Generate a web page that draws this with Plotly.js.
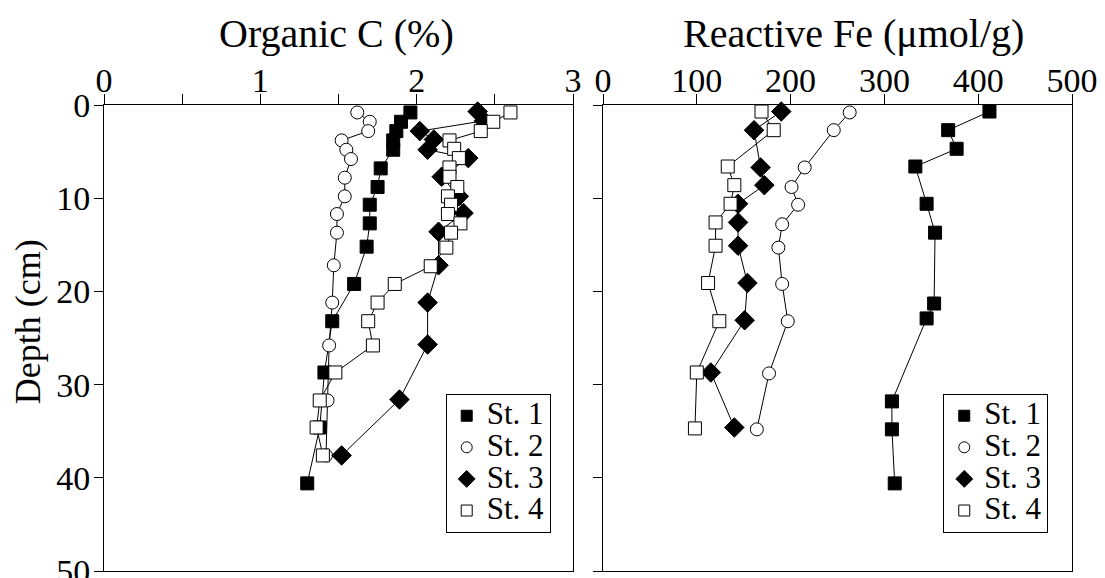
<!DOCTYPE html>
<html><head><meta charset="utf-8">
<script src="https://cdn.plot.ly/plotly-3.0.1.min.js"></script>
<style>html,body{margin:0;padding:0;background:#fff}#chart{width:1105px;height:578px}</style>
</head><body><div id="chart"></div>
<script>
// ---- Organic C (%) panel ----
const stationNames = ['St. 1', 'St. 2', 'St. 3', 'St. 4'];
const cDepth1 = [0.8, 1.8, 2.8, 3.8, 4.8, 6.8, 8.8, 10.7, 12.7, 15.2, 19.2, 23.2, 28.7, 34.6, 40.6];
const cSt1    = [1.96, 1.90, 1.87, 1.85, 1.85, 1.77, 1.75, 1.70, 1.70, 1.68, 1.60, 1.46, 1.41, 1.38, 1.30];
const cDepth2 = [0.8, 1.8, 2.8, 3.8, 4.8, 5.8, 7.8, 9.8, 11.7, 13.7, 17.2, 21.2, 25.8, 31.7, 37.6];
const cSt2    = [1.62, 1.70, 1.69, 1.52, 1.55, 1.58, 1.54, 1.54, 1.49, 1.49, 1.47, 1.46, 1.44, 1.43, 1.42];
const cDepth3 = [0.7, 1.7, 2.8, 3.7, 4.8, 5.7, 7.7, 9.8, 11.6, 13.6, 17.2, 21.2, 25.7, 31.6, 37.6];
const cSt3    = [2.39, 2.43, 2.02, 2.11, 2.07, 2.33, 2.16, 2.27, 2.30, 2.14, 2.14, 2.07, 2.07, 1.89, 1.52];
const cDepth4 = [0.8, 1.8, 2.8, 3.8, 4.7, 5.7, 6.7, 7.7, 8.8, 9.8, 10.7, 11.7, 12.7, 13.7, 15.3, 17.3, 19.2, 21.2, 23.2, 25.8, 28.7, 31.7, 34.6, 37.6];
const cSt4    = [2.60, 2.49, 2.41, 2.21, 2.24, 2.27, 2.21, 2.21, 2.26, 2.20, 2.22, 2.20, 2.28, 2.22, 2.19, 2.09, 1.86, 1.75, 1.69, 1.72, 1.48, 1.38, 1.36, 1.40];

// ---- Reactive Fe (umol/g) panel ----
const fDepth1 = [0.7, 2.7, 4.7, 6.6, 10.6, 13.7, 21.3, 22.9, 31.8, 34.8, 40.6];
const fSt1    = [412, 368, 377, 333, 345, 354, 353, 345, 308, 308, 311];
const fDepth2 = [0.8, 2.7, 6.7, 8.8, 10.7, 12.8, 15.3, 19.2, 23.2, 28.8, 34.8];
const fSt2    = [263, 246, 215, 201, 208, 191, 187, 191, 197, 177, 164];
const fDepth3 = [0.7, 2.7, 6.7, 8.6, 10.6, 12.6, 15.1, 19.1, 23.1, 28.7, 34.6];
const fSt3    = [190, 161, 168, 172, 144, 144, 144, 154, 151, 115, 140];
const fDepth4 = [0.7, 2.7, 6.6, 8.6, 10.6, 12.6, 15.1, 19.1, 23.2, 28.7, 34.7];
const fSt4    = [169, 182, 133, 140, 136, 120, 120, 112, 124, 100, 98];

// tick labels
const cTickVals = [0, 0.5, 1, 1.5, 2, 2.5, 3];
const cTickText = ['0', '', '1', '', '2', '', '3'];
const fTickVals = [0, 100, 200, 300, 400, 500];
const fTickText = ['0', '100', '200', '300', '400', '500'];
const depthTickVals = [0, 10, 20, 30, 40, 50];
const depthTickText = ['0', '10', '20', '30', '40', '50'];

const FONT = 'Liberation Serif, Times New Roman, serif';
const styles = [
  {symbol: 'square', size: 13, color: '#000', line: {color: '#000', width: 1}},
  {symbol: 'circle', size: 13, color: '#fff', line: {color: '#000', width: 1}},
  {symbol: 'diamond', size: 15, color: '#000', line: {color: '#000', width: 1}},
  {symbol: 'square', size: 13, color: '#fff', line: {color: '#000', width: 1}}
];
const legendStyles = [
  {symbol: 'square', size: 11, color: '#000', line: {color: '#000', width: 1}},
  {symbol: 'circle', size: 11, color: '#fff', line: {color: '#000', width: 1}},
  {symbol: 'diamond', size: 13, color: '#000', line: {color: '#000', width: 1}},
  {symbol: 'square', size: 11, color: '#fff', line: {color: '#000', width: 1}}
];

const cX = [cSt1, cSt2, cSt3, cSt4], cY = [cDepth1, cDepth2, cDepth3, cDepth4];
const fX = [fSt1, fSt2, fSt3, fSt4], fY = [fDepth1, fDepth2, fDepth3, fDepth4];
const legendLabel = n => '<span style="font-size:31px">' + n + '</span>';

const traces = [];
for (let i = 0; i < 4; i++) {
  traces.push({x: cX[i], y: cY[i], xaxis: 'x', yaxis: 'y', mode: 'lines+markers', type: 'scatter',
    line: {color: '#000', width: 1}, marker: styles[i], showlegend: false, cliponaxis: false});
}
for (let i = 0; i < 4; i++) {
  traces.push({x: fX[i], y: fY[i], xaxis: 'x2', yaxis: 'y2', mode: 'lines+markers', type: 'scatter',
    line: {color: '#000', width: 1}, marker: styles[i], showlegend: false, cliponaxis: false});
}
// legend entries (marker only)
for (let i = 0; i < 4; i++) {
  traces.push({x: [null], y: [null], xaxis: 'x', yaxis: 'y', mode: 'markers', type: 'scatter',
    name: legendLabel(stationNames[i]), marker: legendStyles[i], legend: 'legend'});
}
for (let i = 0; i < 4; i++) {
  traces.push({x: [null], y: [null], xaxis: 'x2', yaxis: 'y2', mode: 'markers', type: 'scatter',
    name: legendLabel(stationNames[i]), marker: legendStyles[i], legend: 'legend2'});
}

const axisCommon = {
  showline: true, linecolor: '#000', linewidth: 1, mirror: true,
  showgrid: false, zeroline: false, ticks: 'outside', tickcolor: '#000', tickwidth: 1,
  ticklabeloverflow: 'allow',
  tickfont: {family: FONT, size: 34, color: '#000'}
};
const legendCommon = {
  bgcolor: '#fff', bordercolor: '#000', borderwidth: 1,
  font: {family: FONT, size: 22, color: '#000'},
  xanchor: 'left', yanchor: 'top', tracegroupgap: 0
};

const layout = {
  width: 1105, height: 578,
  margin: {l: 104, r: 33, t: 105, b: 7, pad: 0},
  paper_bgcolor: '#fff', plot_bgcolor: '#fff',
  xaxis: Object.assign({}, axisCommon, {domain: [0, 0.4845], range: [0, 3], side: 'top', anchor: 'y',
    tickmode: 'array', tickvals: cTickVals, ticktext: cTickText, ticklen: 10, ticklabelstandoff: -12}),
  yaxis: Object.assign({}, axisCommon, {domain: [0, 1], range: [50, 0], anchor: 'x',
    tickmode: 'array', tickvals: depthTickVals, ticktext: depthTickText, ticklen: 9, ticklabelstandoff: -3}),
  xaxis2: Object.assign({}, axisCommon, {domain: [0.5155, 1], range: [0, 500], side: 'top', anchor: 'y2',
    tickmode: 'array', tickvals: fTickVals, ticktext: fTickText, ticklen: 10, ticklabelstandoff: -12}),
  yaxis2: Object.assign({}, axisCommon, {domain: [0, 1], range: [50, 0], anchor: 'x2',
    tickmode: 'array', tickvals: depthTickVals, showticklabels: false, ticklen: 9}),
  legend: Object.assign({}, legendCommon, {x: 0.353, y: 0.38}),
  legend2: Object.assign({}, legendCommon, {x: 0.867, y: 0.38}),
  annotations: [
    {text: 'Organic C (%)', xref: 'paper', yref: 'paper', x: 0.2397, y: 1.1545, xanchor: 'center', yanchor: 'middle',
     showarrow: false, font: {family: FONT, size: 40, color: '#000'}},
    {text: 'Reactive Fe (\u03bcmol/g)', xref: 'paper', yref: 'paper', x: 0.7738, y: 1.1545, xanchor: 'center', yanchor: 'middle',
     showarrow: false, font: {family: FONT, size: 40, color: '#000'}},
    {text: 'Depth (cm)', xref: 'paper', yref: 'paper', x: -0.0785, y: 0.534, xanchor: 'center', yanchor: 'middle',
     textangle: -90, showarrow: false, font: {family: FONT, size: 36, color: '#000'}}
  ]
};

Plotly.newPlot('chart', traces, layout, {staticPlot: true, displayModeBar: false});
</script></body></html>
